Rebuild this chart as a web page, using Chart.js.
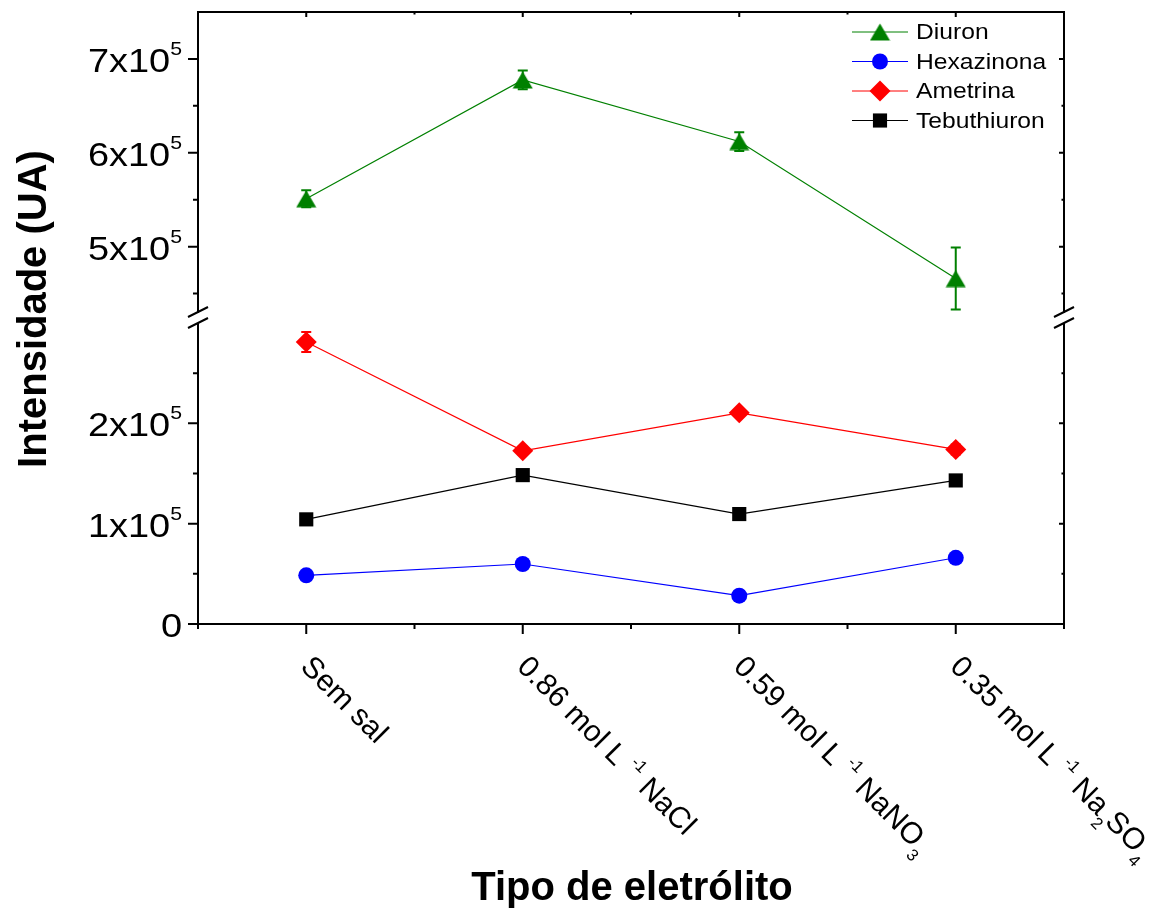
<!DOCTYPE html>
<html>
<head>
<meta charset="utf-8">
<script src="https://cdn.jsdelivr.net/npm/chart.js@4.4.1/dist/chart.umd.min.js"></script>
<style>
  html, body { margin: 0; padding: 0; background: #fff; }
  #wrap { width: 1157px; height: 910px; }
</style>
</head>
<body>
<div id="wrap"><canvas id="chart" width="1157" height="910"></canvas></div>
<script>
var categories = ['Sem sal', '0.86 mol L-1 NaCl', '0.59 mol L-1 NaNO3', '0.35 mol L-1 Na2SO4'];

// label pieces: [text, shift]  shift 1 = superscript, -1 = subscript
var categoryParts = [
  [['Sem sal', 0]],
  [['0.86 mol L ', 0], ['-1', 1], [' NaCl', 0]],
  [['0.59 mol L ', 0], ['-1', 1], [' NaNO', 0], ['3', -1]],
  [['0.35 mol L ', 0], ['-1', 1], [' Na', 0], ['2', -1], ['SO', 0], ['4', -1]]
];

var diuron = [5.51e5, 6.776e5, 6.12e5, 4.66e5];
var diuronErr = [0.09e5, 0.10e5, 0.10e5, 0.33e5];
var hexazinona = [0.485e5, 0.598e5, 0.282e5, 0.66e5];
var hexazinonaErr = [0.02e5, 0.02e5, 0.02e5, 0.02e5];
var ametrina = [2.81e5, 1.726e5, 2.105e5, 1.74e5];
var ametrinaErr = [0.10e5, 0.04e5, 0.03e5, 0.05e5];
var tebuthiuron = [1.043e5, 1.484e5, 1.096e5, 1.431e5];
var tebuthiuronErr = [0.02e5, 0.03e5, 0.02e5, 0.03e5];

// broken y axis: lower and upper segments
var lowRange = [0, 3.05e5];
var highRange = [4.24e5, 7.5e5];
var lowTicks = [0, 1e5, 2e5];
var lowMinor = [0.5e5, 1.5e5, 2.5e5];
var highTicks = [5e5, 6e5, 7e5];
var highMinor = [4.5e5, 5.5e5, 6.5e5];

var FONT = '"Liberation Sans", Arial, Helvetica, sans-serif';

function font(size, bold) {
  return (bold ? 'bold ' : '') + size + 'px ' + FONT;
}

// triangle marker centred on its bounding box
function triangleMarker(color) {
  var c = document.createElement('canvas');
  c.width = 21; c.height = 18;
  var g = c.getContext('2d');
  g.fillStyle = color;
  g.beginPath();
  g.moveTo(10.5, 0.5); g.lineTo(20.5, 17.5); g.lineTo(0.5, 17.5);
  g.closePath();
  g.fill();
  return c;
}

function richWidth(ctx, parts, size, supScale) {
  var w = 0;
  parts.forEach(function (p) {
    ctx.font = font(p[1] === 0 ? size : size * supScale);
    w += ctx.measureText(p[0]).width;
  });
  return w;
}

function drawRich(ctx, parts, x, y, size, o) {
  parts.forEach(function (p) {
    var s = p[1] === 0 ? size : size * o.supScale;
    var dy = p[1] === 1 ? -size * o.rise : (p[1] === -1 ? size * o.drop : 0);
    ctx.font = font(s);
    ctx.fillText(p[0], x, y + dy);
    x += ctx.measureText(p[0]).width;
  });
}

function tickParts(v) {
  if (v === 0) return [['0', 0]];
  return [[String(Math.round(v / 1e5)) + 'x10', 0], ['5', 1]];
}

// error bars, drawn through the dataset's own y scale
var errorBars = {
  id: 'errorBars',
  afterDatasetsDraw: function (chart) {
    var ctx = chart.ctx;
    chart.data.datasets.forEach(function (ds, i) {
      var meta = chart.getDatasetMeta(i);
      var ys = chart.scales[ds.yAxisID];
      ctx.save();
      ctx.strokeStyle = ds.borderColor;
      ctx.lineWidth = 2;
      meta.data.forEach(function (pt, j) {
        var e = ds.errors[j];
        var top = ys.getPixelForValue(ds.data[j] + e);
        var bot = ys.getPixelForValue(ds.data[j] - e);
        ctx.beginPath();
        ctx.moveTo(pt.x, top); ctx.lineTo(pt.x, bot);
        ctx.moveTo(pt.x - 5, top); ctx.lineTo(pt.x + 5, top);
        ctx.moveTo(pt.x - 5, bot); ctx.lineTo(pt.x + 5, bot);
        ctx.stroke();
      });
      ctx.restore();
    });
  }
};

// frame, ticks, labels, axis break, titles and legend
var decorations = {
  id: 'decorations',
  afterDraw: function (chart) {
    var ctx = chart.ctx;
    var a = chart.chartArea;
    var xs = chart.scales.x;
    var yl = chart.scales.yLow;
    var yh = chart.scales.yHigh;
    ctx.save();
    ctx.strokeStyle = '#000';
    ctx.fillStyle = '#000';
    ctx.lineWidth = 2;
    ctx.strokeRect(a.left, a.top, a.right - a.left, a.bottom - a.top);

    function hTick(y, len) {
      ctx.beginPath();
      ctx.moveTo(a.left - len, y); ctx.lineTo(a.left, y);
      ctx.moveTo(a.right, y); ctx.lineTo(a.right - len * 0.5, y);
      ctx.stroke();
    }
    lowTicks.forEach(function (v) { hTick(yl.getPixelForValue(v), 10); });
    lowMinor.forEach(function (v) { hTick(yl.getPixelForValue(v), 5); });
    highTicks.forEach(function (v) { hTick(yh.getPixelForValue(v), 10); });
    highMinor.forEach(function (v) { hTick(yh.getPixelForValue(v), 5); });

    function vTick(x, len) {
      ctx.beginPath();
      ctx.moveTo(x, a.bottom); ctx.lineTo(x, a.bottom + len);
      ctx.moveTo(x, a.top); ctx.lineTo(x, a.top + len * 0.5);
      ctx.stroke();
    }
    categories.forEach(function (c, i) {
      vTick(xs.getPixelForValue(i), 10);
      vTick(xs.getPixelForValue(i - 0.5), 5);
    });
    vTick(xs.getPixelForValue(categories.length - 0.5), 5);

    // axis break marks between the two segments
    var yb = (yl.top + yh.bottom) / 2;
    [a.left, a.right].forEach(function (x) {
      ctx.save();
      ctx.fillStyle = '#fff';
      ctx.fillRect(x - 3, yb - 5, 6, 10);
      ctx.restore();
      ctx.beginPath();
      ctx.moveTo(x - 10, yb - 1); ctx.lineTo(x + 10, yb - 11);
      ctx.moveTo(x - 10, yb + 10); ctx.lineTo(x + 10, yb);
      ctx.stroke();
    });

    // y tick labels (slightly wide lettering)
    ctx.textBaseline = 'alphabetic';
    ctx.textAlign = 'left';
    var tickOpt = { supScale: 0.56, rise: 0.52, drop: 0.3 };
    var sx = 1.15;
    function yLabel(v, scale) {
      var parts = tickParts(v);
      var w = richWidth(ctx, parts, 33, tickOpt.supScale) * sx;
      ctx.save();
      ctx.translate(a.left - 16 - w, scale.getPixelForValue(v) + 13);
      ctx.scale(sx, 1);
      drawRich(ctx, parts, 0, 0, 33, tickOpt);
      ctx.restore();
    }
    lowTicks.forEach(function (v) { yLabel(v, yl); });
    highTicks.forEach(function (v) { yLabel(v, yh); });

    // rotated category labels
    var catOpt = { supScale: 0.56, rise: 0.45, drop: 0.35 };
    categoryParts.forEach(function (parts, i) {
      var x = xs.getPixelForValue(i);
      ctx.save();
      ctx.translate(x - 7, a.bottom + 44);
      ctx.rotate(Math.PI / 4);
      drawRich(ctx, parts, 0, 0, 30, catOpt);
      ctx.restore();
    });

    // axis titles
    ctx.font = font(40, true);
    ctx.textAlign = 'center';
    ctx.fillText('Tipo de eletrólito', 632, 900);
    ctx.save();
    ctx.translate(46, 309);
    ctx.rotate(-Math.PI / 2);
    ctx.fillText('Intensidade (UA)', 0, 0);
    ctx.restore();

    // legend
    ctx.textAlign = 'left';
    ctx.textBaseline = 'middle';
    ctx.font = font(22);
    chart.data.datasets.forEach(function (ds, i) {
      var y = 32 + i * 29.5;
      ctx.strokeStyle = ds.borderColor;
      ctx.lineWidth = 1;
      ctx.beginPath();
      ctx.moveTo(852, y); ctx.lineTo(908, y);
      ctx.stroke();
      ctx.fillStyle = ds.backgroundColor;
      Chart.helpers.drawPoint(ctx, {
        pointStyle: ds.pointStyle, radius: ds.pointRadius, rotation: 0, borderWidth: 0
      }, 880, y);
      ctx.fillStyle = '#000';
      ctx.save();
      ctx.translate(916, y + 1);
      ctx.scale(1.12, 1);
      ctx.fillText(ds.label, 0, 0);
      ctx.restore();
    });
    ctx.restore();
  }
};

new Chart(document.getElementById('chart'), {
  type: 'line',
  data: {
    labels: categories,
    datasets: [{
      label: 'Diuron',
      data: diuron,
      errors: diuronErr,
      yAxisID: 'yHigh',
      borderColor: '#008000',
      backgroundColor: '#008000',
      borderWidth: 1.2,
      pointStyle: triangleMarker('#008000'),
      pointRadius: 10,
      pointBorderWidth: 0
    }, {
      label: 'Hexazinona',
      data: hexazinona,
      errors: hexazinonaErr,
      yAxisID: 'yLow',
      borderColor: '#0000ff',
      backgroundColor: '#0000ff',
      borderWidth: 1.2,
      pointStyle: 'circle',
      pointRadius: 8,
      pointBorderWidth: 0
    }, {
      label: 'Ametrina',
      data: ametrina,
      errors: ametrinaErr,
      yAxisID: 'yLow',
      borderColor: '#ff0000',
      backgroundColor: '#ff0000',
      borderWidth: 1.2,
      pointStyle: 'rectRot',
      pointRadius: 10.5,
      pointBorderWidth: 0
    }, {
      label: 'Tebuthiuron',
      data: tebuthiuron,
      errors: tebuthiuronErr,
      yAxisID: 'yLow',
      borderColor: '#000000',
      backgroundColor: '#000000',
      borderWidth: 1.2,
      pointStyle: 'rect',
      pointRadius: 10,
      pointBorderWidth: 0
    }]
  },
  options: {
    responsive: false,
    animation: false,
    events: [],
    layout: { padding: { top: 12, right: 93, left: 0, bottom: 0 } },
    plugins: { legend: { display: false }, tooltip: { enabled: false } },
    elements: { line: { tension: 0 } },
    scales: {
      x: {
        type: 'category',
        offset: true,
        grid: { display: false },
        border: { display: false },
        ticks: { display: false },
        afterFit: function (s) { s.height = 286; }
      },
      yLow: {
        type: 'linear',
        position: 'left',
        stack: 'intens',
        stackWeight: 1,
        min: lowRange[0],
        max: lowRange[1],
        grid: { display: false },
        border: { display: false },
        ticks: { display: false },
        afterFit: function (s) { s.width = 198; }
      },
      yHigh: {
        type: 'linear',
        position: 'left',
        stack: 'intens',
        stackWeight: 1,
        min: highRange[0],
        max: highRange[1],
        grid: { display: false },
        border: { display: false },
        ticks: { display: false },
        afterFit: function (s) { s.width = 198; }
      }
    }
  },
  plugins: [errorBars, decorations]
});
</script>
</body>
</html>
